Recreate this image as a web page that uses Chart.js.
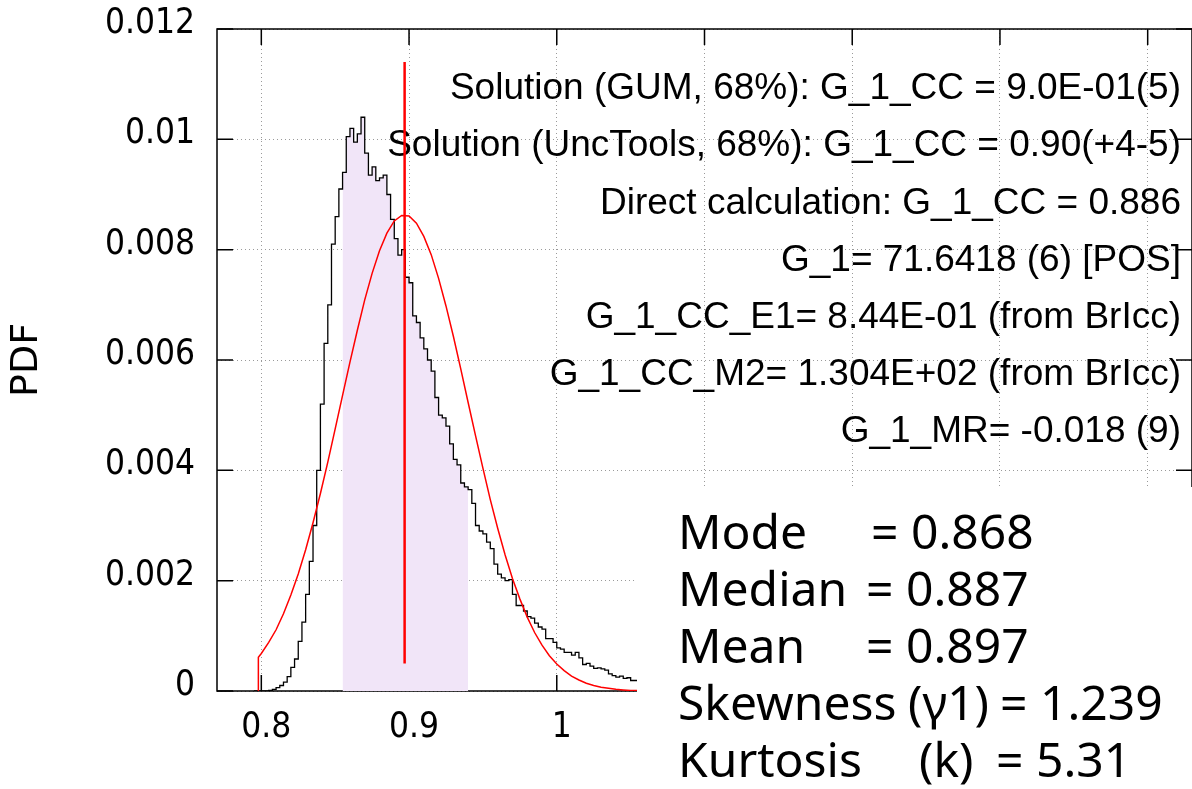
<!DOCTYPE html>
<html>
<head>
<meta charset="utf-8">
<title>PDF G_1_CC</title>
<script src="https://cdn.jsdelivr.net/npm/chart.js@4.4.0/dist/chart.umd.min.js"></script>
<style>
  html, body { margin: 0; padding: 0; background: #fff; }
  canvas { display: block; }
</style>
</head>
<body>
<canvas id="pdfChart" width="1192" height="789"></canvas>
<script>
// histogram: bins of 0.0025 starting at 0.795
const binStart = 0.795;
const binWidth = 0.0025;
const histY = [
  0, 0, 0, 0, 0.00001, 0.00003, 0.00006, 0.00010, 0.00016, 0.00026,
  0.00043, 0.00058, 0.00090, 0.00125, 0.00175, 0.00235, 0.00300, 0.00400, 0.00520, 0.00630,
  0.00700, 0.00810, 0.00860, 0.00910, 0.00940, 0.01005, 0.01020, 0.00995, 0.01010, 0.01040,
  0.00975, 0.00935, 0.00950, 0.00925, 0.00930, 0.00935, 0.00900, 0.00855, 0.00820, 0.00790,
  0.00800, 0.00750, 0.00740, 0.00680, 0.00668, 0.00640, 0.00620, 0.00600, 0.00580, 0.00532,
  0.00500, 0.00495, 0.00480, 0.00448, 0.00420, 0.00410, 0.00377, 0.00370, 0.00365, 0.00340,
  0.00300, 0.00290, 0.00285, 0.00270, 0.00258, 0.00230, 0.00212, 0.00205, 0.00200, 0.00202,
  0.00175, 0.00155, 0.00155, 0.00145, 0.00135, 0.00132, 0.00123, 0.00116, 0.00112, 0.00095,
  0.00095, 0.00088, 0.00078, 0.00076, 0.00070, 0.00070, 0.00065, 0.00070, 0.00060, 0.00048,
  0.00050, 0.00045, 0.00041, 0.00042, 0.00040, 0.00038, 0.00031, 0.00028, 0.00025, 0.00027,
  0.00023, 0.00024, 0.00019, 0.00019, 0.00017, 0.00016
];
const histX = histY.map((v, i) => +(binStart + i * binWidth).toFixed(4));

// 68% interval (shaded)
const shadeFrom = 0.855;
const shadeTo = 0.94;

// gaussian (GUM) curve
const gaussX = [0.798, 0.798, 0.800, 0.805, 0.810, 0.815, 0.820, 0.825, 0.830, 0.835,
  0.840, 0.845, 0.850, 0.855, 0.860, 0.865, 0.870, 0.875, 0.880, 0.885,
  0.890, 0.895, 0.900, 0.905, 0.910, 0.915, 0.920, 0.925, 0.930, 0.935,
  0.940, 0.945, 0.950, 0.955, 0.960, 0.965, 0.970, 0.975, 0.980, 0.985,
  0.990, 0.995, 1.000, 1.005, 1.010, 1.015, 1.020, 1.025, 1.030, 1.035,
  1.040, 1.045, 1.050, 1.055, 1.060];
const gaussY = [0, 0.00061, 0.00068, 0.00088, 0.00111, 0.00140, 0.00174, 0.00212, 0.00256, 0.00305,
  0.00358, 0.00415, 0.00475, 0.00536, 0.00596, 0.00654, 0.00709, 0.00757, 0.00798, 0.00830,
  0.00852, 0.00862, 0.00861, 0.00848, 0.00824, 0.00791, 0.00748, 0.00698, 0.00643, 0.00584,
  0.00523, 0.00463, 0.00404, 0.00347, 0.00295, 0.00247, 0.00204, 0.00167, 0.00134, 0.00106,
  0.00083, 0.00064, 0.00049, 0.00037, 0.00027, 0.00020, 0.00014, 0.00010, 0.00007, 0.00005,
  0.00003, 0.00002, 0.00001, 0.00001, 0.00001];

// mean marker
const meanX = 0.897;
const meanLine = [0.0005, 0.0114];

const xTickLabels = [0.8, 0.9, 1];

const infoLines = [
  'Solution (GUM, 68%): G_1_CC = 9.0E-01(5)',
  'Solution (UncTools, 68%): G_1_CC = 0.90(+4-5)',
  'Direct calculation: G_1_CC = 0.886',
  'G_1= 71.6418 (6) [POS]',
  'G_1_CC_E1= 8.44E-01 (from BrIcc)',
  'G_1_CC_M2= 1.304E+02 (from BrIcc)',
  'G_1_MR= -0.018 (9)'
];

const statNames = ['Mode', 'Median', 'Mean', 'Skewness', 'Kurtosis'];
const statSymbols = ['', '', '', '(\u03b31)', '(k)'];
const statValues = ['0.868', '0.887', '0.897', '1.239', '5.31'];

const tickFont = '"DejaVu Sans Condensed", "DejaVu Sans", sans-serif';

const histPts = histX.map((x, i) => ({x: x, y: histY[i]}));
const shadePts = histPts.filter(p => p.x >= shadeFrom - 1e-9 && p.x <= shadeTo + 1e-9);

// frame, inner ticks and the info text (under the curves)
const framePlugin = {
  id: 'frame',
  beforeDatasetsDraw(chart) {
    const ctx = chart.ctx;
    const a = chart.chartArea;
    const xs = chart.scales.x, ys = chart.scales.y;
    ctx.save();
    ctx.strokeStyle = '#000';
    ctx.lineWidth = 1.5;
    ctx.strokeRect(a.left, a.top, a.right - a.left, a.bottom - a.top);
    ctx.beginPath();
    xs.ticks.forEach(t => {
      let px = xs.getPixelForValue(t.value);
      ctx.moveTo(px, a.bottom); ctx.lineTo(px, a.bottom - 16);
      ctx.moveTo(px, a.top); ctx.lineTo(px, a.top + 16);
    });
    ys.ticks.forEach(t => {
      let py = ys.getPixelForValue(t.value);
      ctx.moveTo(a.left, py); ctx.lineTo(a.left + 16, py);
      ctx.moveTo(a.right, py); ctx.lineTo(a.right - 16, py);
    });
    ctx.stroke();

    ctx.fillStyle = '#000';
    ctx.font = '37px "Liberation Sans", Arial, sans-serif';
    ctx.textAlign = 'right';
    ctx.textBaseline = 'middle';
    infoLines.forEach((s, i) => {
      ctx.fillText(s, 1181, 89 + i * 57.2);
    });
    ctx.restore();
  }
};

// white box with the statistics, lower right
const statsPlugin = {
  id: 'stats',
  afterDatasetsDraw(chart) {
    const ctx = chart.ctx;
    ctx.save();
    ctx.fillStyle = '#fff';
    ctx.fillRect(637, 487, chart.width - 637, chart.height - 487);
    ctx.fillStyle = '#000';
    ctx.font = '48px "Noto Sans", sans-serif';
    ctx.textAlign = 'left';
    ctx.textBaseline = 'middle';
    const eqX = [871, 866, 866, 1000, 996];
    const symX = [0, 0, 0, 908, 919];
    statNames.forEach((n, i) => {
      const y = 535 + i * 57;
      ctx.fillText(n, 678, y);
      if (statSymbols[i]) ctx.fillText(statSymbols[i], symX[i], y);
      ctx.fillText('= ' + statValues[i], eqX[i], y);
    });
    ctx.restore();
  }
};

const ctx = document.getElementById('pdfChart').getContext('2d');
const chart = new Chart(ctx, {
  type: 'line',
  data: {
    datasets: [
      {
        label: 'Mean',
        data: meanLine.map(v => ({x: meanX, y: v})),
        borderColor: '#ff0000',
        borderWidth: 2.5,
        fill: false,
        pointRadius: 0,
        order: 0
      },
      {
        label: 'GUM',
        data: gaussX.map((x, i) => ({x: x, y: gaussY[i]})),
        borderColor: '#ff0000',
        borderWidth: 1.5,
        fill: false,
        pointRadius: 0,
        tension: 0,
        order: 1
      },
      {
        label: 'PDF',
        data: histPts,
        stepped: 'before',
        borderColor: '#000',
        borderWidth: 1.3,
        fill: false,
        pointRadius: 0,
        order: 2
      },
      {
        label: '68%',
        data: shadePts,
        stepped: 'before',
        borderWidth: 0,
        borderColor: 'rgba(0,0,0,0)',
        backgroundColor: '#f1e5f8',
        fill: 'origin',
        pointRadius: 0,
        order: 3
      }
    ]
  },
  options: {
    responsive: false,
    animation: false,
    devicePixelRatio: 1,
    layout: { padding: { top: 29, right: -8, bottom: 0, left: 0 } },
    plugins: {
      legend: { display: false },
      tooltip: { enabled: false }
    },
    scales: {
      x: {
        type: 'linear',
        min: 0.77,
        max: 1.43,
        afterFit: s => { s.height = 98; s.paddingLeft = 0; s.paddingRight = 0; },
        border: { display: false, dash: [1, 3] },
        grid: { color: '#9a9a9a', lineWidth: 1, drawTicks: false },
        ticks: {
          stepSize: 0.1,
          includeBounds: false,
          autoSkip: false,
          maxRotation: 0,
          padding: 16,
          labelOffset: 5,
          color: '#000',
          font: { family: tickFont, size: 35 },
          callback: v => {
            const t = xTickLabels.find(k => Math.abs(k - v) < 1e-6);
            return t === undefined ? '' : String(t);
          }
        }
      },
      y: {
        min: 0,
        max: 0.012,
        afterFit: s => { s.width = 217; s.paddingTop = 0; s.paddingBottom = 0; },
        border: { display: false, dash: [1, 3] },
        grid: { color: '#9a9a9a', lineWidth: 1, drawTicks: false },
        title: {
          display: true,
          text: 'PDF',
          color: '#000',
          font: { family: '"DejaVu Sans", sans-serif', size: 38 },
          padding: { top: 4, bottom: 0 }
        },
        ticks: {
          stepSize: 0.002,
          autoSkip: false,
          padding: 22,
          labelOffset: -5,
          color: '#000',
          font: { family: tickFont, size: 35 },
          callback: v => String(+v.toFixed(3))
        }
      }
    }
  },
  plugins: [framePlugin, statsPlugin]
});
</script>
</body>
</html>
